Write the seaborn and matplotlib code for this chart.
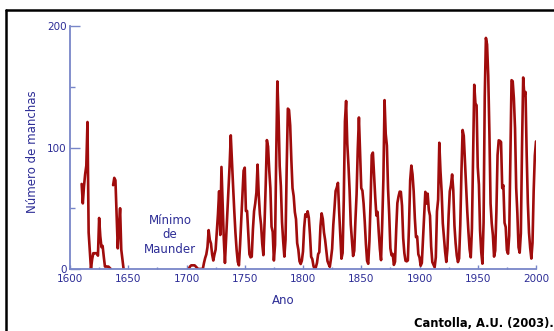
import numpy as np
import pandas as pd
import matplotlib
matplotlib.use("Agg")
import matplotlib.pyplot as plt
from matplotlib.lines import Line2D
from matplotlib.ticker import MultipleLocator
import seaborn as sns

# ---------------- data ----------------
years_early1 = list(range(1610, 1636))
values_early1 = [70, 54, 68, 78, 85, 121, 30, 15, 0, 8,
                 13, 13, 13, 13, 11, 42, 27, 18, 19, 10,
                 2, 2, 2, 2, 1, 0]

years_early2 = list(range(1637, 1647))
values_early2 = [69, 75, 73, 45, 17, 35, 50, 16, 8, 0]

years_main = list(range(1702, 2001))
values_main = [
    # 1702-1748
    0, 2, 3, 3, 3, 3, 2, 1, 0, 0,
    0, 0, 0, 5, 9, 12, 18, 32, 24, 21,
    12, 7, 12, 16, 30, 45, 64, 28, 84, 55,
    25, 5, 25, 45, 65, 85, 110, 88, 68, 48,
    30, 16, 6, 3, 20, 40, 60,
    # 1749-1800
    80.9, 83.4, 47.7, 47.8, 30.7, 12.2, 9.6, 10.2, 32.4, 47.6, 54.0,
    62.9, 85.9, 61.2, 45.1, 36.4, 20.9, 11.4, 37.8, 69.8, 106.1,
    100.8, 81.6, 66.5, 34.8, 30.6, 7.0, 19.8, 92.5, 154.4, 125.9,
    84.8, 68.1, 38.5, 22.8, 10.2, 24.1, 82.9, 132.0, 130.9, 118.1,
    89.9, 66.6, 60.0, 46.9, 41.0, 21.3, 16.0, 6.4, 4.1, 6.8,
    14.5,
    # 1801-1850
    34.0, 45.0, 43.1, 47.5, 42.2, 28.1, 10.1, 8.1, 2.5, 0.0,
    1.4, 5.0, 12.2, 13.9, 35.4, 45.8, 41.1, 30.1, 23.9, 15.6,
    6.6, 4.0, 1.8, 8.5, 16.6, 36.3, 49.6, 64.2, 67.0, 70.9,
    47.8, 27.5, 8.5, 13.2, 56.9, 121.5, 138.3, 103.2, 85.7, 64.6,
    36.7, 24.2, 10.7, 15.0, 40.1, 61.5, 98.5, 124.7, 96.3, 66.6,
    # 1851-1900
    64.5, 54.1, 39.0, 20.6, 6.7, 4.3, 22.7, 54.8, 93.8, 95.8,
    77.2, 59.1, 44.0, 47.0, 30.5, 16.3, 7.3, 37.6, 74.0, 139.0,
    111.2, 101.6, 66.2, 44.7, 17.0, 11.3, 12.4, 3.4, 6.0, 32.3,
    54.3, 59.7, 63.7, 63.5, 52.2, 25.4, 13.1, 6.8, 6.3, 7.1,
    35.6, 73.0, 85.1, 78.0, 64.0, 41.8, 26.2, 26.7, 12.1, 9.5,
    # 1901-1950
    2.7, 5.0, 24.4, 42.0, 63.5, 53.8, 62.0, 48.5, 43.9, 18.6,
    5.7, 3.6, 1.4, 9.6, 47.4, 57.1, 103.9, 80.6, 63.6, 37.6,
    26.1, 14.2, 5.8, 16.7, 44.3, 63.9, 69.0, 77.8, 64.9, 35.7,
    21.2, 11.1, 5.7, 8.7, 36.1, 79.7, 114.4, 109.6, 88.8, 67.8,
    47.5, 30.6, 16.3, 9.6, 33.2, 92.6, 151.6, 136.3, 134.7, 83.9,
    # 1951-2000
    69.4, 31.5, 13.9, 4.4, 38.0, 141.7, 190.2, 184.8, 159.0, 112.3,
    53.9, 37.6, 27.9, 10.2, 15.1, 47.0, 93.8, 105.9, 105.5, 104.5,
    66.6, 68.9, 38.0, 34.5, 15.5, 12.6, 27.5, 92.5, 155.4, 154.6,
    140.4, 115.9, 66.6, 45.9, 17.9, 13.4, 29.4, 100.2, 157.6, 142.6,
    145.7, 94.3, 54.6, 29.9, 17.5, 8.6, 21.5, 64.3, 93.3, 105.0,
]

x_ticks = [1600, 1650, 1700, 1750, 1800, 1850, 1900, 1950, 2000]
y_ticks = [0, 100, 200]

df = pd.concat([
    pd.DataFrame({"Ano": years_early1, "Manchas": values_early1, "seg": 0}),
    pd.DataFrame({"Ano": years_early2, "Manchas": values_early2, "seg": 1}),
    pd.DataFrame({"Ano": years_main, "Manchas": values_main, "seg": 2}),
], ignore_index=True)

# ---------------- style ----------------
sns.set_theme(style="white")
plt.rcParams["font.family"] = ["DejaVu Sans"]

NAVY = "#2d2d96"
SPINE = "#7886c8"
RED = "#a00c0c"

fig = plt.figure(figsize=(5.54, 3.31), dpi=100)
fig.patch.set_facecolor("white")
W, H = 554, 331
ax = fig.add_axes([70 / W, 1 - 269 / H, (536 - 70) / W, (269 - 26) / H])
ax.set_facecolor("white")

sns.lineplot(data=df, x="Ano", y="Manchas", units="seg", estimator=None,
             color=RED, linewidth=1.9, ax=ax, legend=False)

ax.set_xlim(1600, 2000)
ax.set_ylim(0, 200)
ax.set_xticks(x_ticks)
ax.set_yticks(y_ticks)
ax.xaxis.set_minor_locator(MultipleLocator(25))
ax.yaxis.set_minor_locator(MultipleLocator(50))

for s in ["top", "right"]:
    ax.spines[s].set_visible(False)
for s in ["left", "bottom"]:
    ax.spines[s].set_color(SPINE)
    ax.spines[s].set_linewidth(1.3)

ax.tick_params(axis="y", which="major", direction="in", length=7.2, width=1.0,
               color=SPINE, labelsize=7.5, labelcolor=NAVY, pad=2.5, left=True)
ax.tick_params(axis="y", which="minor", direction="in", length=3.6, width=1.0,
               color=SPINE, left=True)
ax.tick_params(axis="x", which="major", direction="in", length=3, width=1.0,
               color=SPINE, labelsize=7.5, labelcolor=NAVY, pad=3.5, bottom=True)
ax.tick_params(axis="x", which="minor", direction="in", length=1.5, width=1.0,
               color=SPINE, bottom=True)

ax.set_xlabel("Ano", fontsize=8.5, color=NAVY)
ax.xaxis.label.set(va="center", ha="center")
ax.xaxis.set_label_coords((283 - 70) / 466, (269 - 300) / 243)

ax.set_ylabel("Número de manchas", fontsize=8.5, color=NAVY)
ax.yaxis.label.set(va="center", ha="center", rotation_mode="default")
ax.yaxis.set_label_coords((33 - 70) / 466, (269 - 151.5) / 243)

ax.text((170 - 70) / 466, (269 - 235) / 243, "Mínimo\nde\nMaunder",
        transform=ax.transAxes, ha="center", va="center", fontsize=8.5,
        color=NAVY, linespacing=1.15)

fig.text(554 / W, 1 - 327 / H, "Cantolla, A.U. (2003).", ha="right",
         va="baseline", fontsize=8.3, fontweight="bold", color="black")

# frame lines (top and left) of the original picture
fig.add_artist(Line2D([6 / W, 1.0], [1 - 10 / H, 1 - 10 / H],
                      transform=fig.transFigure, color="black", linewidth=1.8))
fig.add_artist(Line2D([6 / W, 6 / W], [0, 1 - 10 / H],
                      transform=fig.transFigure, color="black", linewidth=1.8))

fig.savefig("out.png", dpi=100, facecolor="white")
